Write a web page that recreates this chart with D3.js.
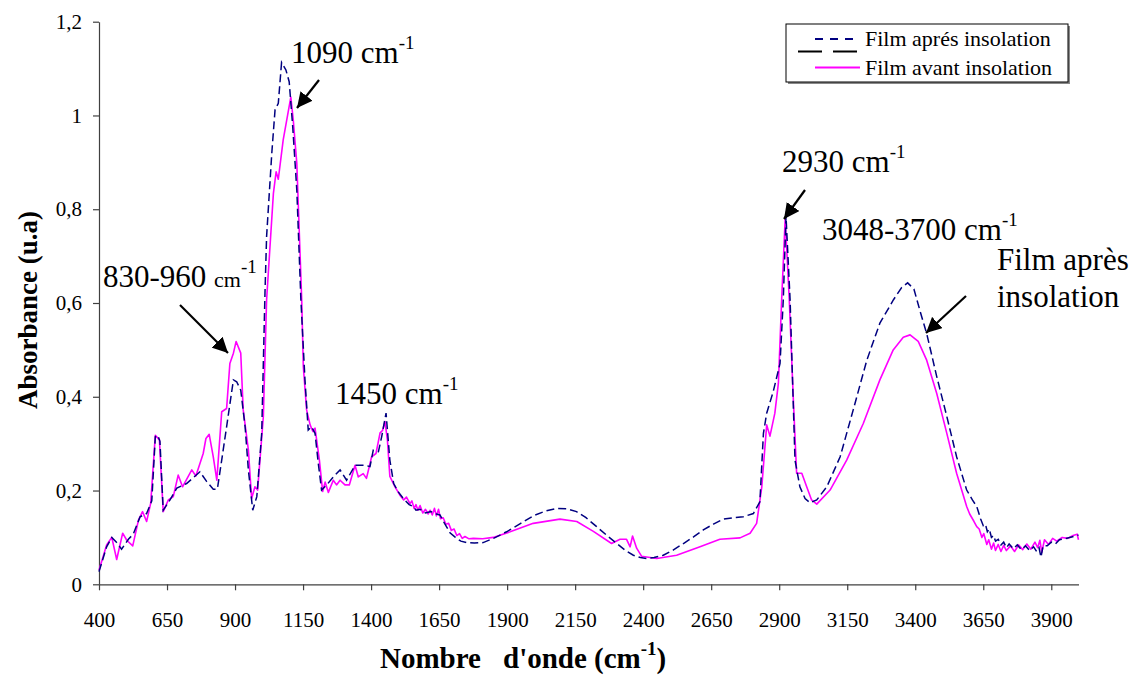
<!DOCTYPE html>
<html><head><meta charset="utf-8">
<script src="https://cdn.jsdelivr.net/npm/d3@7"></script>
<style>body{margin:0;background:#fff}svg text{font-family:"Liberation Serif","Times New Roman",serif;fill:#000}</style>
</head><body>
<svg id="c" width="1136" height="676"></svg>
<script>
// ---- Data ----
const apresWavenumber = [400,428,447,465,483,508,526,551,575,594,607,616,624,636,661,686,722,771,796,820,835,851,869,894,906,921,937,949,965,980,998,1010,1016,1035,1047,1059,1071,1087,1099,1112,1127,1142,1157,1169,1181,1194,1206,1218,1237,1261,1286,1310,1341,1378,1396,1408,1427,1439,1455,1469,1483,1500,1520,1540,1555,1565,1580,1600,1620,1640,1653,1670,1690,1710,1730,1751,1780,1812,1850,1898,1950,1996,2040,2082,2120,2155,2190,2229,2265,2303,2335,2364,2390,2413,2440,2474,2510,2548,2585,2621,2660,2695,2730,2768,2805,2829,2842,2854,2878,2903,2915,2925,2940,2958,2976,2995,3013,3038,3075,3124,3172,3222,3270,3320,3350,3372,3395,3420,3442,3479,3516,3552,3589,3610,3626,3640,3650,3658,3665,3672,3680,3688,3695,3705,3715,3725,3735,3745,3760,3775,3790,3805,3820,3835,3846,3855,3862,3870,3885,3900,3915,3930,3950,3975,4000];
const apresAbs        = [0.027,0.080,0.100,0.089,0.075,0.096,0.107,0.144,0.151,0.178,0.315,0.318,0.305,0.158,0.180,0.205,0.215,0.240,0.219,0.203,0.203,0.265,0.336,0.436,0.432,0.414,0.336,0.244,0.158,0.187,0.322,0.621,0.742,0.919,1.012,1.026,1.113,1.097,1.072,0.976,0.841,0.607,0.436,0.329,0.336,0.322,0.258,0.201,0.212,0.229,0.244,0.222,0.254,0.254,0.251,0.286,0.283,0.315,0.365,0.265,0.215,0.197,0.182,0.170,0.166,0.158,0.160,0.152,0.155,0.150,0.148,0.130,0.110,0.100,0.092,0.089,0.088,0.089,0.098,0.112,0.130,0.146,0.156,0.162,0.161,0.155,0.142,0.123,0.105,0.087,0.072,0.062,0.057,0.055,0.057,0.062,0.073,0.087,0.101,0.116,0.129,0.139,0.142,0.144,0.151,0.176,0.322,0.365,0.411,0.471,0.607,0.785,0.607,0.265,0.208,0.183,0.174,0.180,0.208,0.272,0.372,0.478,0.557,0.607,0.633,0.643,0.630,0.578,0.535,0.443,0.358,0.272,0.201,0.180,0.166,0.140,0.125,0.128,0.112,0.118,0.100,0.104,0.092,0.096,0.084,0.090,0.078,0.086,0.076,0.084,0.074,0.082,0.072,0.080,0.070,0.078,0.058,0.082,0.082,0.090,0.086,0.095,0.097,0.101,0.105];

const avantWavenumber = [400,428,447,465,487,502,524,545,560,575,590,607,622,636,655,673,691,707,741,756,783,793,805,820,833,851,869,881,894,904,921,930,949,961,973,983,1004,1016,1041,1051,1059,1077,1105,1114,1127,1145,1151,1163,1176,1186,1194,1210,1222,1231,1243,1261,1273,1286,1304,1320,1341,1353,1371,1383,1402,1418,1433,1442,1451,1460,1469,1488,1506,1520,1530,1543,1550,1558,1565,1572,1580,1590,1600,1610,1617,1625,1633,1640,1648,1655,1665,1675,1685,1695,1705,1715,1725,1735,1745,1760,1776,1810,1849,1911,1996,2094,2156,2217,2284,2315,2339,2352,2361,2376,2394,2450,2523,2609,2682,2756,2793,2817,2836,2854,2866,2884,2897,2909,2922,2937,2952,2964,2983,3001,3019,3038,3087,3148,3209,3270,3319,3356,3381,3411,3442,3479,3516,3552,3589,3600,3615,3626,3635,3645,3652,3663,3670,3680,3688,3695,3705,3715,3725,3735,3750,3765,3780,3795,3810,3825,3840,3850,3858,3865,3875,3890,3905,3920,3940,3960,3980,3995,4000];
const avantAbs        = [0.030,0.084,0.100,0.053,0.109,0.094,0.082,0.137,0.155,0.134,0.173,0.318,0.308,0.155,0.180,0.187,0.233,0.208,0.244,0.231,0.279,0.311,0.320,0.272,0.222,0.368,0.375,0.471,0.493,0.518,0.493,0.372,0.287,0.183,0.208,0.201,0.358,0.607,0.834,0.880,0.864,0.948,1.039,0.990,0.898,0.607,0.464,0.372,0.340,0.326,0.333,0.265,0.198,0.218,0.196,0.222,0.212,0.222,0.212,0.212,0.254,0.229,0.236,0.226,0.272,0.279,0.323,0.328,0.347,0.308,0.230,0.208,0.190,0.180,0.186,0.172,0.178,0.162,0.170,0.158,0.168,0.152,0.160,0.150,0.158,0.148,0.162,0.146,0.160,0.140,0.142,0.128,0.130,0.115,0.118,0.104,0.108,0.098,0.102,0.097,0.098,0.097,0.100,0.112,0.130,0.139,0.134,0.113,0.087,0.096,0.096,0.080,0.103,0.077,0.060,0.055,0.062,0.080,0.096,0.099,0.109,0.130,0.208,0.340,0.316,0.365,0.429,0.607,0.780,0.607,0.393,0.237,0.237,0.208,0.180,0.171,0.201,0.265,0.343,0.436,0.500,0.527,0.532,0.518,0.478,0.407,0.322,0.237,0.166,0.150,0.135,0.123,0.118,0.100,0.108,0.085,0.095,0.075,0.088,0.072,0.085,0.070,0.083,0.072,0.082,0.070,0.084,0.074,0.086,0.075,0.090,0.078,0.094,0.068,0.095,0.085,0.098,0.092,0.100,0.098,0.104,0.107,0.095];

const xTickValues = [400,650,900,1150,1400,1650,1900,2150,2400,2650,2900,3150,3400,3650,3900];
const yTickValues = [0,0.2,0.4,0.6,0.8,1,1.2];
const seriesNames = ["Film aprés insolation","Film avant insolation"];

// ---- Chart ----
const svg = d3.select('#c');
const x = d3.scaleLinear().domain([400,4000]).range([99,1078.5]);
const y = d3.scaleLinear().domain([0,1.2]).range([584.3,21.7]);

const axisColor = '#404040';
const gx = svg.append('g').attr('transform',`translate(0,${y(0)})`)
  .call(d3.axisBottom(x).tickValues(xTickValues).tickSize(6).tickSizeOuter(0).tickPadding(22).tickFormat(d3.format('d')));
const gy = svg.append('g').attr('transform',`translate(${x(400)},0)`)
  .call(d3.axisLeft(y).tickValues(yTickValues).tickSize(6).tickSizeOuter(0).tickPadding(11)
    .tickFormat(d => String(+d.toFixed(1)).replace('.',',')));
[gx,gy].forEach(g=>{
  g.select('.domain').attr('stroke',axisColor).attr('stroke-width',1.2);
  g.selectAll('.tick line').attr('stroke',axisColor).attr('stroke-width',1.2);
  g.selectAll('.tick text').attr('font-size',21).attr('fill','#000');
});

const line = d3.line().x(d=>x(d[0])).y(d=>y(d[1]));
const apres = d3.zip(apresWavenumber, apresAbs);
const avant = d3.zip(avantWavenumber, avantAbs);

svg.append('path').datum(avant).attr('d',line).attr('fill','none')
  .attr('stroke','#ff00ff').attr('stroke-width',1.6).attr('stroke-linejoin','round');
svg.append('path').datum(apres).attr('d',line).attr('fill','none')
  .attr('stroke','#000080').attr('stroke-width',1.5).attr('stroke-dasharray','8,4');

// ---- Axis titles ----
const xt = svg.append('text').attr('y',668).attr('font-weight','bold').attr('font-size',29);
xt.append('tspan').attr('x',380).text('Nombre');
xt.append('tspan').attr('x',503).text("d'onde (cm");
xt.append('tspan').attr('font-size',19).attr('dy',-13).text('-1');
xt.append('tspan').attr('dy',13).text(')');

svg.append('text').attr('transform','translate(37,310) rotate(-90)').attr('text-anchor','middle')
  .attr('font-weight','bold').attr('font-size',27).text('Absorbance (u.a)');

// ---- Legend ----
const lg = svg.append('g');
lg.append('rect').attr('x',788).attr('y',26).attr('width',282).attr('height',58).attr('fill','#888');
lg.append('rect').attr('x',786).attr('y',24).attr('width',282).attr('height',58).attr('fill','#fff').attr('stroke','#000').attr('stroke-width',1);
lg.append('line').attr('x1',815).attr('x2',860).attr('y1',39).attr('y2',39).attr('stroke','#000080').attr('stroke-width',1.8).attr('stroke-dasharray','8,7');
lg.append('line').attr('x1',798).attr('x2',860).attr('y1',51.5).attr('y2',51.5).attr('stroke','#000').attr('stroke-width',1.8).attr('stroke-dasharray','24,11');
lg.append('line').attr('x1',815).attr('x2',860).attr('y1',67.5).attr('y2',67.5).attr('stroke','#ff00ff').attr('stroke-width',1.8);
lg.append('text').attr('x',865).attr('y',46).attr('font-size',22).text(seriesNames[0]);
lg.append('text').attr('x',865).attr('y',75).attr('font-size',22).text(seriesNames[1]);

// ---- Annotations ----
const defs = svg.append('defs');
defs.append('marker').attr('id','ah').attr('viewBox','0 0 10 10').attr('refX',10).attr('refY',5)
  .attr('markerWidth',7).attr('markerHeight',7).attr('orient','auto').attr('markerUnits','strokeWidth')
  .append('path').attr('d','M0,0 L10,5 L0,10 z').attr('fill','#000');
function arrow(x1,y1,x2,y2){
  svg.append('line').attr('x1',x1).attr('y1',y1).attr('x2',x2).attr('y2',y2)
    .attr('stroke','#000').attr('stroke-width',2.2).attr('marker-end','url(#ah)');
}
function label(xp,yp,main,small,smallSize){
  const t = svg.append('text').attr('x',xp).attr('y',yp).attr('font-size',31);
  t.append('tspan').text(main);
  if(small){ t.append('tspan').attr('font-size',smallSize).text(small); }
  t.append('tspan').attr('font-size',19).attr('dy',-14).text('-1');
  return t;
}
label(291,63,'1090 cm');
arrow(319,80,297,108);
label(103,287,'830-960 ','cm',22);
arrow(180,305,228,353);
label(335,404,'1450 cm');
label(782,172,'2930 cm');
arrow(805,190,784,219);
label(822,240,'3048-3700 cm');
svg.append('text').attr('x',997).attr('y',270).attr('font-size',31).text('Film après');
svg.append('text').attr('x',997).attr('y',307).attr('font-size',31).text('insolation');
arrow(966,296,926,333);
</script>
</body></html>
